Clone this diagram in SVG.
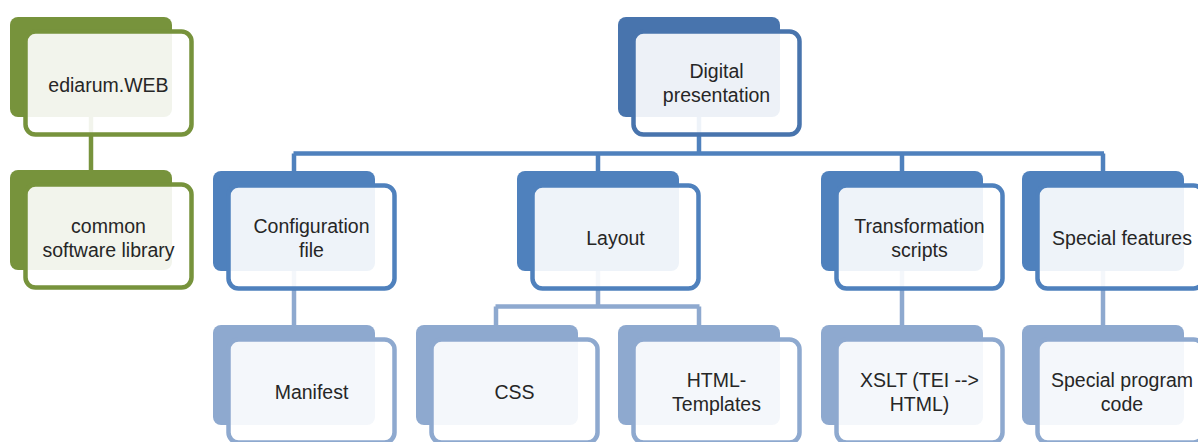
<svg xmlns="http://www.w3.org/2000/svg" width="1198" height="442" viewBox="0 0 1198 442">
<style>
.bk{stroke:none}
.fr{fill:#ffffff;fill-opacity:0.9;stroke-width:4.5}
.g .bk{fill:#77933C}.g .fr{stroke:#77933C}
.b1 .bk{fill:#4874AD}.b1 .fr{stroke:#4874AD}
.b2 .bk{fill:#4F81BD}.b2 .fr{stroke:#4F81BD}
.b3 .bk{fill:#8EA9CF}.b3 .fr{stroke:#8EA9CF}
text{font-family:"Liberation Sans",Arial,sans-serif;font-size:19.5px;fill:#262626;text-anchor:middle}
.c{fill:none;stroke-width:4.5}
</style>
<rect width="1198" height="442" fill="#ffffff"/>
<g id="connectors">
<path class="c" stroke="#77933C" d="M91,117V171"/>
<path class="c" stroke="#4F81BD" d="M699,117V153.5M293.5,153.5H1104M294,153.5V172M598,153.5V172M902,153.5V172M1103,153.5V172"/>
<path class="c" stroke="#8EA9CF" d="M294,270V326M598,270V306.5M495.5,306.5H699.5M496,306.5V326M699,306.5V326M902,270V326M1103,270V326"/>
</g>
<g id="ediarum" class="g">
<rect class="bk" x="10" y="17" width="162" height="100" rx="8"/>
<rect class="fr" x="25.5" y="31.5" width="166" height="103" rx="10"/>
<text x="108.5" y="91.5">ediarum.WEB</text>
</g>
<g id="library" class="g">
<rect class="bk" x="10" y="170" width="162" height="100" rx="8"/>
<rect class="fr" x="25.5" y="184.5" width="166" height="103" rx="10"/>
<text x="108.5" y="233">common</text>
<text x="108.5" y="257">software library</text>
</g>
<g id="digital" class="b1">
<rect class="bk" x="618" y="17" width="162" height="100" rx="8"/>
<rect class="fr" x="633.5" y="31.5" width="166" height="103" rx="10"/>
<text x="716.5" y="78">Digital</text>
<text x="716.5" y="102">presentation</text>
</g>
<g id="config" class="b2">
<rect class="bk" x="213" y="171" width="162" height="100" rx="8"/>
<rect class="fr" x="228.5" y="185.5" width="166" height="103" rx="10"/>
<text x="311.5" y="233">Configuration</text>
<text x="311.5" y="257">file</text>
</g>
<g id="layout" class="b2">
<rect class="bk" x="517" y="171" width="162" height="100" rx="8"/>
<rect class="fr" x="532.5" y="185.5" width="166" height="103" rx="10"/>
<text x="615.5" y="244.5">Layout</text>
</g>
<g id="transformation" class="b2">
<rect class="bk" x="821" y="171" width="162" height="100" rx="8"/>
<rect class="fr" x="836.5" y="185.5" width="166" height="103" rx="10"/>
<text x="919.5" y="233">Transformation</text>
<text x="919.5" y="257">scripts</text>
</g>
<g id="special" class="b2">
<rect class="bk" x="1022" y="171" width="162" height="100" rx="8"/>
<rect class="fr" x="1037.5" y="185.5" width="166" height="103" rx="10"/>
<text x="1122" y="244.5">Special features</text>
</g>
<g id="manifest" class="b3">
<rect class="bk" x="213" y="325" width="162" height="100" rx="8"/>
<rect class="fr" x="228.5" y="339.5" width="166" height="103" rx="10"/>
<text x="311.5" y="398.5">Manifest</text>
</g>
<g id="css" class="b3">
<rect class="bk" x="416" y="325" width="162" height="100" rx="8"/>
<rect class="fr" x="431.5" y="339.5" width="166" height="103" rx="10"/>
<text x="514.5" y="398.5">CSS</text>
</g>
<g id="html" class="b3">
<rect class="bk" x="618" y="325" width="162" height="100" rx="8"/>
<rect class="fr" x="633.5" y="339.5" width="166" height="103" rx="10"/>
<text x="716.5" y="387">HTML-</text>
<text x="716.5" y="411">Templates</text>
</g>
<g id="xslt" class="b3">
<rect class="bk" x="821" y="325" width="162" height="100" rx="8"/>
<rect class="fr" x="836.5" y="339.5" width="166" height="103" rx="10"/>
<text x="919.5" y="387">XSLT (TEI --&gt;</text>
<text x="919.5" y="411">HTML)</text>
</g>
<g id="program" class="b3">
<rect class="bk" x="1022" y="325" width="162" height="100" rx="8"/>
<rect class="fr" x="1037.5" y="339.5" width="166" height="103" rx="10"/>
<text x="1122" y="387">Special program</text>
<text x="1122" y="411">code</text>
</g>
</svg>
